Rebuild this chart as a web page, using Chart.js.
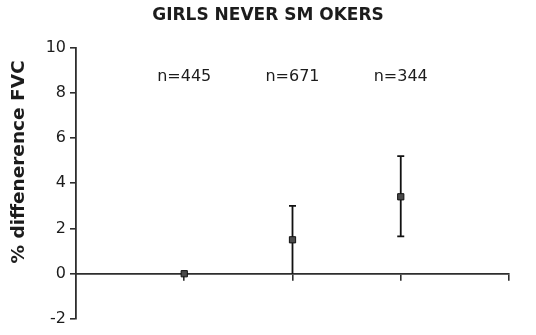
<!DOCTYPE html>
<html>
<head>
<meta charset="utf-8">
<script src="https://cdn.jsdelivr.net/npm/chart.js@4/dist/chart.umd.min.js"></script>
<style>
  html, body { margin: 0; padding: 0; background: #fff; }
  #wrap { width: 536px; height: 335px; }
</style>
</head>
<body>
<div id="wrap"><canvas id="c" width="536" height="335"></canvas></div>
<script>
// Group positions along the x scale and their sample sizes
const groupPositions = [1, 2, 3];
const groupLabels = ['n=445', 'n=671', 'n=344'];

// Mean % difference in FVC with confidence limits
const meanDiff = [0, 1.5, 3.4];
const ciLower = [0, 0, 1.65];
const ciUpper = [0, 3.0, 5.2];

// Axis ticks
const yTickValues = [-2, 0, 2, 4, 6, 8, 10];
const xTickValues = [1, 2, 3, 4];

const chartTitle = 'GIRLS NEVER SM OKERS';
const yAxisTitle = '% diffenerence FVC';
const countLabelLevel = 8.7;

const FONT = "'DejaVu Sans', 'Liberation Sans', sans-serif";
const INK = '#1c1c1c';
const AXIS = '#2e2e2e';

// Error bars, group counts and the rotated y-axis title
const annotate = {
  id: 'annotate',
  beforeDatasetsDraw(chart) {
    const { ctx, scales: { x, y } } = chart;
    ctx.save();
    ctx.strokeStyle = '#111';
    ctx.lineWidth = 1.8;
    const cap = 3.5;
    groupPositions.forEach((g, i) => {
      if (ciUpper[i] === ciLower[i]) return;
      const px = x.getPixelForValue(g);
      const top = y.getPixelForValue(ciUpper[i]);
      const bot = y.getPixelForValue(ciLower[i]);
      ctx.beginPath();
      ctx.moveTo(px, top); ctx.lineTo(px, bot);
      ctx.moveTo(px - cap, top); ctx.lineTo(px + cap, top);
      if (ciLower[i] !== 0) { ctx.moveTo(px - cap, bot); ctx.lineTo(px + cap, bot); }
      ctx.stroke();
    });
    ctx.restore();
  },
  afterDraw(chart) {
    const { ctx, scales: { x, y } } = chart;
    ctx.save();
    ctx.fillStyle = INK;
    ctx.font = `16px ${FONT}`;
    ctx.textAlign = 'center';
    ctx.textBaseline = 'middle';
    groupPositions.forEach((g, i) => {
      ctx.fillText(groupLabels[i], x.getPixelForValue(g), y.getPixelForValue(countLabelLevel));
    });
    ctx.font = `bold 18.5px ${FONT}`;
    ctx.translate(19, 162);
    ctx.rotate(-Math.PI / 2);
    ctx.fillText(yAxisTitle, 0, 0);
    ctx.restore();
  }
};

new Chart(document.getElementById('c'), {
  type: 'scatter',
  data: {
    datasets: [{
      data: groupPositions.map((g, i) => ({ x: g, y: meanDiff[i] })),
      pointStyle: 'rect',
      pointRadius: 4.4,
      pointHoverRadius: 4.4,
      backgroundColor: '#4a4a4a',
      borderColor: '#111',
      borderWidth: 1
    }]
  },
  options: {
    responsive: false,
    animation: false,
    devicePixelRatio: 1,
    layout: { padding: { top: 0, left: 0, right: 0, bottom: 16 } },
    plugins: {
      legend: { display: false },
      tooltip: { enabled: false },
      title: {
        display: true,
        text: chartTitle,
        color: INK,
        font: { family: FONT, size: 17, weight: 'bold' },
        padding: { top: 5, bottom: 22 }
      }
    },
    scales: {
      x: {
        type: 'linear',
        min: 0,
        max: 4,
        position: { y: 0 },
        afterBuildTicks: s => { s.ticks = xTickValues.map(v => ({ value: v })); },
        ticks: { display: false },
        grid: { drawOnChartArea: false, color: AXIS, lineWidth: 1.6, tickLength: 6 },
        border: { color: AXIS, width: 1.8 }
      },
      y: {
        min: -2,
        max: 10,
        afterBuildTicks: s => { s.ticks = yTickValues.map(v => ({ value: v })); },
        afterFit: s => { s.width = 76; },
        ticks: { color: INK, font: { family: FONT, size: 16 }, padding: 4 },
        grid: { drawOnChartArea: false, color: AXIS, lineWidth: 1.6, tickLength: 6 },
        border: { color: AXIS, width: 1.8 }
      },
      // empty margin on the right of the plot
      yRight: {
        position: 'right',
        min: -2,
        max: 10,
        afterFit: s => { s.width = 27; },
        ticks: { display: false },
        grid: { display: false, drawTicks: false },
        border: { display: false }
      }
    }
  },
  plugins: [annotate]
});
</script>
</body>
</html>
